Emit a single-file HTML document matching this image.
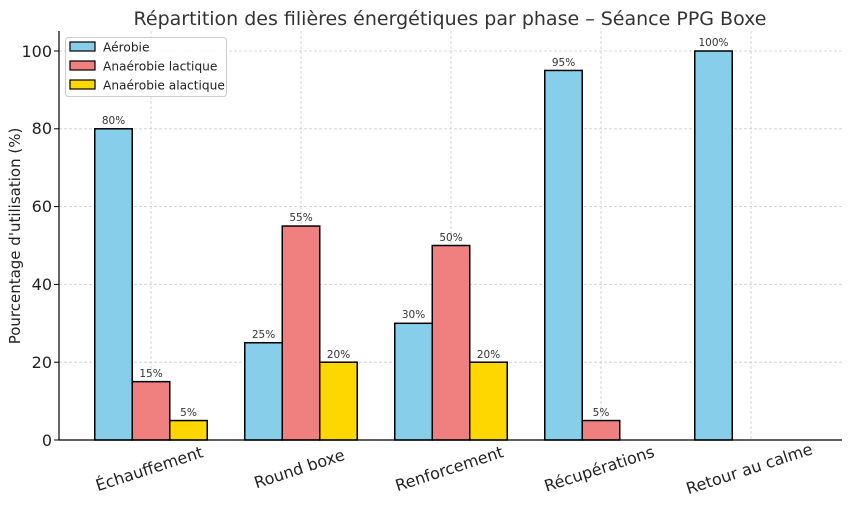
<!DOCTYPE html>
<html><head><meta charset="utf-8"><style>body{margin:0;background:#fff}svg{display:block;font-family:"DejaVu Sans","Liberation Sans",sans-serif}</style></head><body>
<svg width="850" height="507" viewBox="0 0 850 507">
<rect width="850" height="507" fill="#fff"/>
<text x="450" y="25" font-size="19" text-anchor="middle" fill="#333">Répartition des filières énergétiques par phase – Séance PPG Boxe</text>
<g stroke="#ccc" stroke-width="0.8" stroke-dasharray="3,2">
<line x1="59" x2="842" y1="51" y2="51"/><line x1="59" x2="842" y1="128.8" y2="128.8"/><line x1="59" x2="842" y1="206.6" y2="206.6"/><line x1="59" x2="842" y1="284.4" y2="284.4"/><line x1="59" x2="842" y1="362.2" y2="362.2"/>
<line x1="151" x2="151" y1="31" y2="440"/><line x1="301" x2="301" y1="31" y2="440"/><line x1="451" x2="451" y1="31" y2="440"/><line x1="601" x2="601" y1="31" y2="440"/><line x1="751" x2="751" y1="31" y2="440"/>
</g>
<g stroke="#000" stroke-width="1.5">
<rect x="94.75" y="128.8" width="37.5" height="311.2" fill="#87ceeb"/>
<rect x="132.25" y="381.65" width="37.5" height="58.35" fill="#f08080"/>
<rect x="169.75" y="420.55" width="37.5" height="19.45" fill="#ffd700"/>
<rect x="244.75" y="342.75" width="37.5" height="97.25" fill="#87ceeb"/>
<rect x="282.25" y="226.05" width="37.5" height="213.95" fill="#f08080"/>
<rect x="319.75" y="362.2" width="37.5" height="77.8" fill="#ffd700"/>
<rect x="394.75" y="323.3" width="37.5" height="116.7" fill="#87ceeb"/>
<rect x="432.25" y="245.5" width="37.5" height="194.5" fill="#f08080"/>
<rect x="469.75" y="362.2" width="37.5" height="77.8" fill="#ffd700"/>
<rect x="544.75" y="70.45" width="37.5" height="369.55" fill="#87ceeb"/>
<rect x="582.25" y="420.55" width="37.5" height="19.45" fill="#f08080"/>
<rect x="694.75" y="51" width="37.5" height="389" fill="#87ceeb"/>
</g>
<g font-size="10.5" fill="#333" text-anchor="middle">
<text x="113.5" y="124">80%</text><text x="151" y="377">15%</text><text x="188.5" y="416">5%</text>
<text x="263.5" y="338">25%</text><text x="301" y="221">55%</text><text x="338.5" y="358">20%</text>
<text x="413.5" y="318">30%</text><text x="451" y="241">50%</text><text x="488.5" y="358">20%</text>
<text x="563.5" y="66">95%</text><text x="601" y="416">5%</text><text x="713.5" y="46">100%</text>
</g>
<g stroke="#000" stroke-width="1.2"><line x1="59" y1="31" x2="59" y2="440"/><line x1="59" y1="440" x2="842" y2="440"/></g>
<g font-size="16" fill="#222" text-anchor="end">
<text x="52" y="446">0</text><text x="52" y="368">20</text><text x="52" y="290">40</text><text x="52" y="212">60</text><text x="52" y="134">80</text><text x="52" y="57">100</text>
</g>
<g stroke="#000"><line x1="54" x2="59" y1="440" y2="440"/><line x1="54" x2="59" y1="362.2" y2="362.2"/><line x1="54" x2="59" y1="284.4" y2="284.4"/><line x1="54" x2="59" y1="206.6" y2="206.6"/><line x1="54" x2="59" y1="128.8" y2="128.8"/><line x1="54" x2="59" y1="51" y2="51"/></g>
<text transform="translate(20,236) rotate(-90)" font-size="15" fill="#222" text-anchor="middle">Pourcentage d'utilisation (%)</text>
<g font-size="16" fill="#222" text-anchor="middle">
<text transform="translate(151,474) rotate(-18)">Échauffement</text>
<text transform="translate(301,474) rotate(-18)">Round boxe</text>
<text transform="translate(451,474) rotate(-18)">Renforcement</text>
<text transform="translate(601,474) rotate(-18)">Récupérations</text>
<text transform="translate(751,474) rotate(-18)">Retour au calme</text>
</g>
<rect x="65.5" y="37.5" width="161" height="59" rx="3" fill="#fff" fill-opacity="0.85" stroke="#ccc"/>
<g stroke="#000" stroke-width="1.2">
<rect x="70" y="42" width="25" height="9" fill="#87ceeb"/>
<rect x="70" y="61" width="25" height="9" fill="#f08080"/>
<rect x="70" y="80" width="25" height="9" fill="#ffd700"/>
</g>
<g font-size="12.2" fill="#222">
<text x="103" y="51.5">Aérobie</text><text x="103" y="70.5">Anaérobie lactique</text><text x="103" y="89.5">Anaérobie alactique</text>
</g>
</svg>
</body></html>
